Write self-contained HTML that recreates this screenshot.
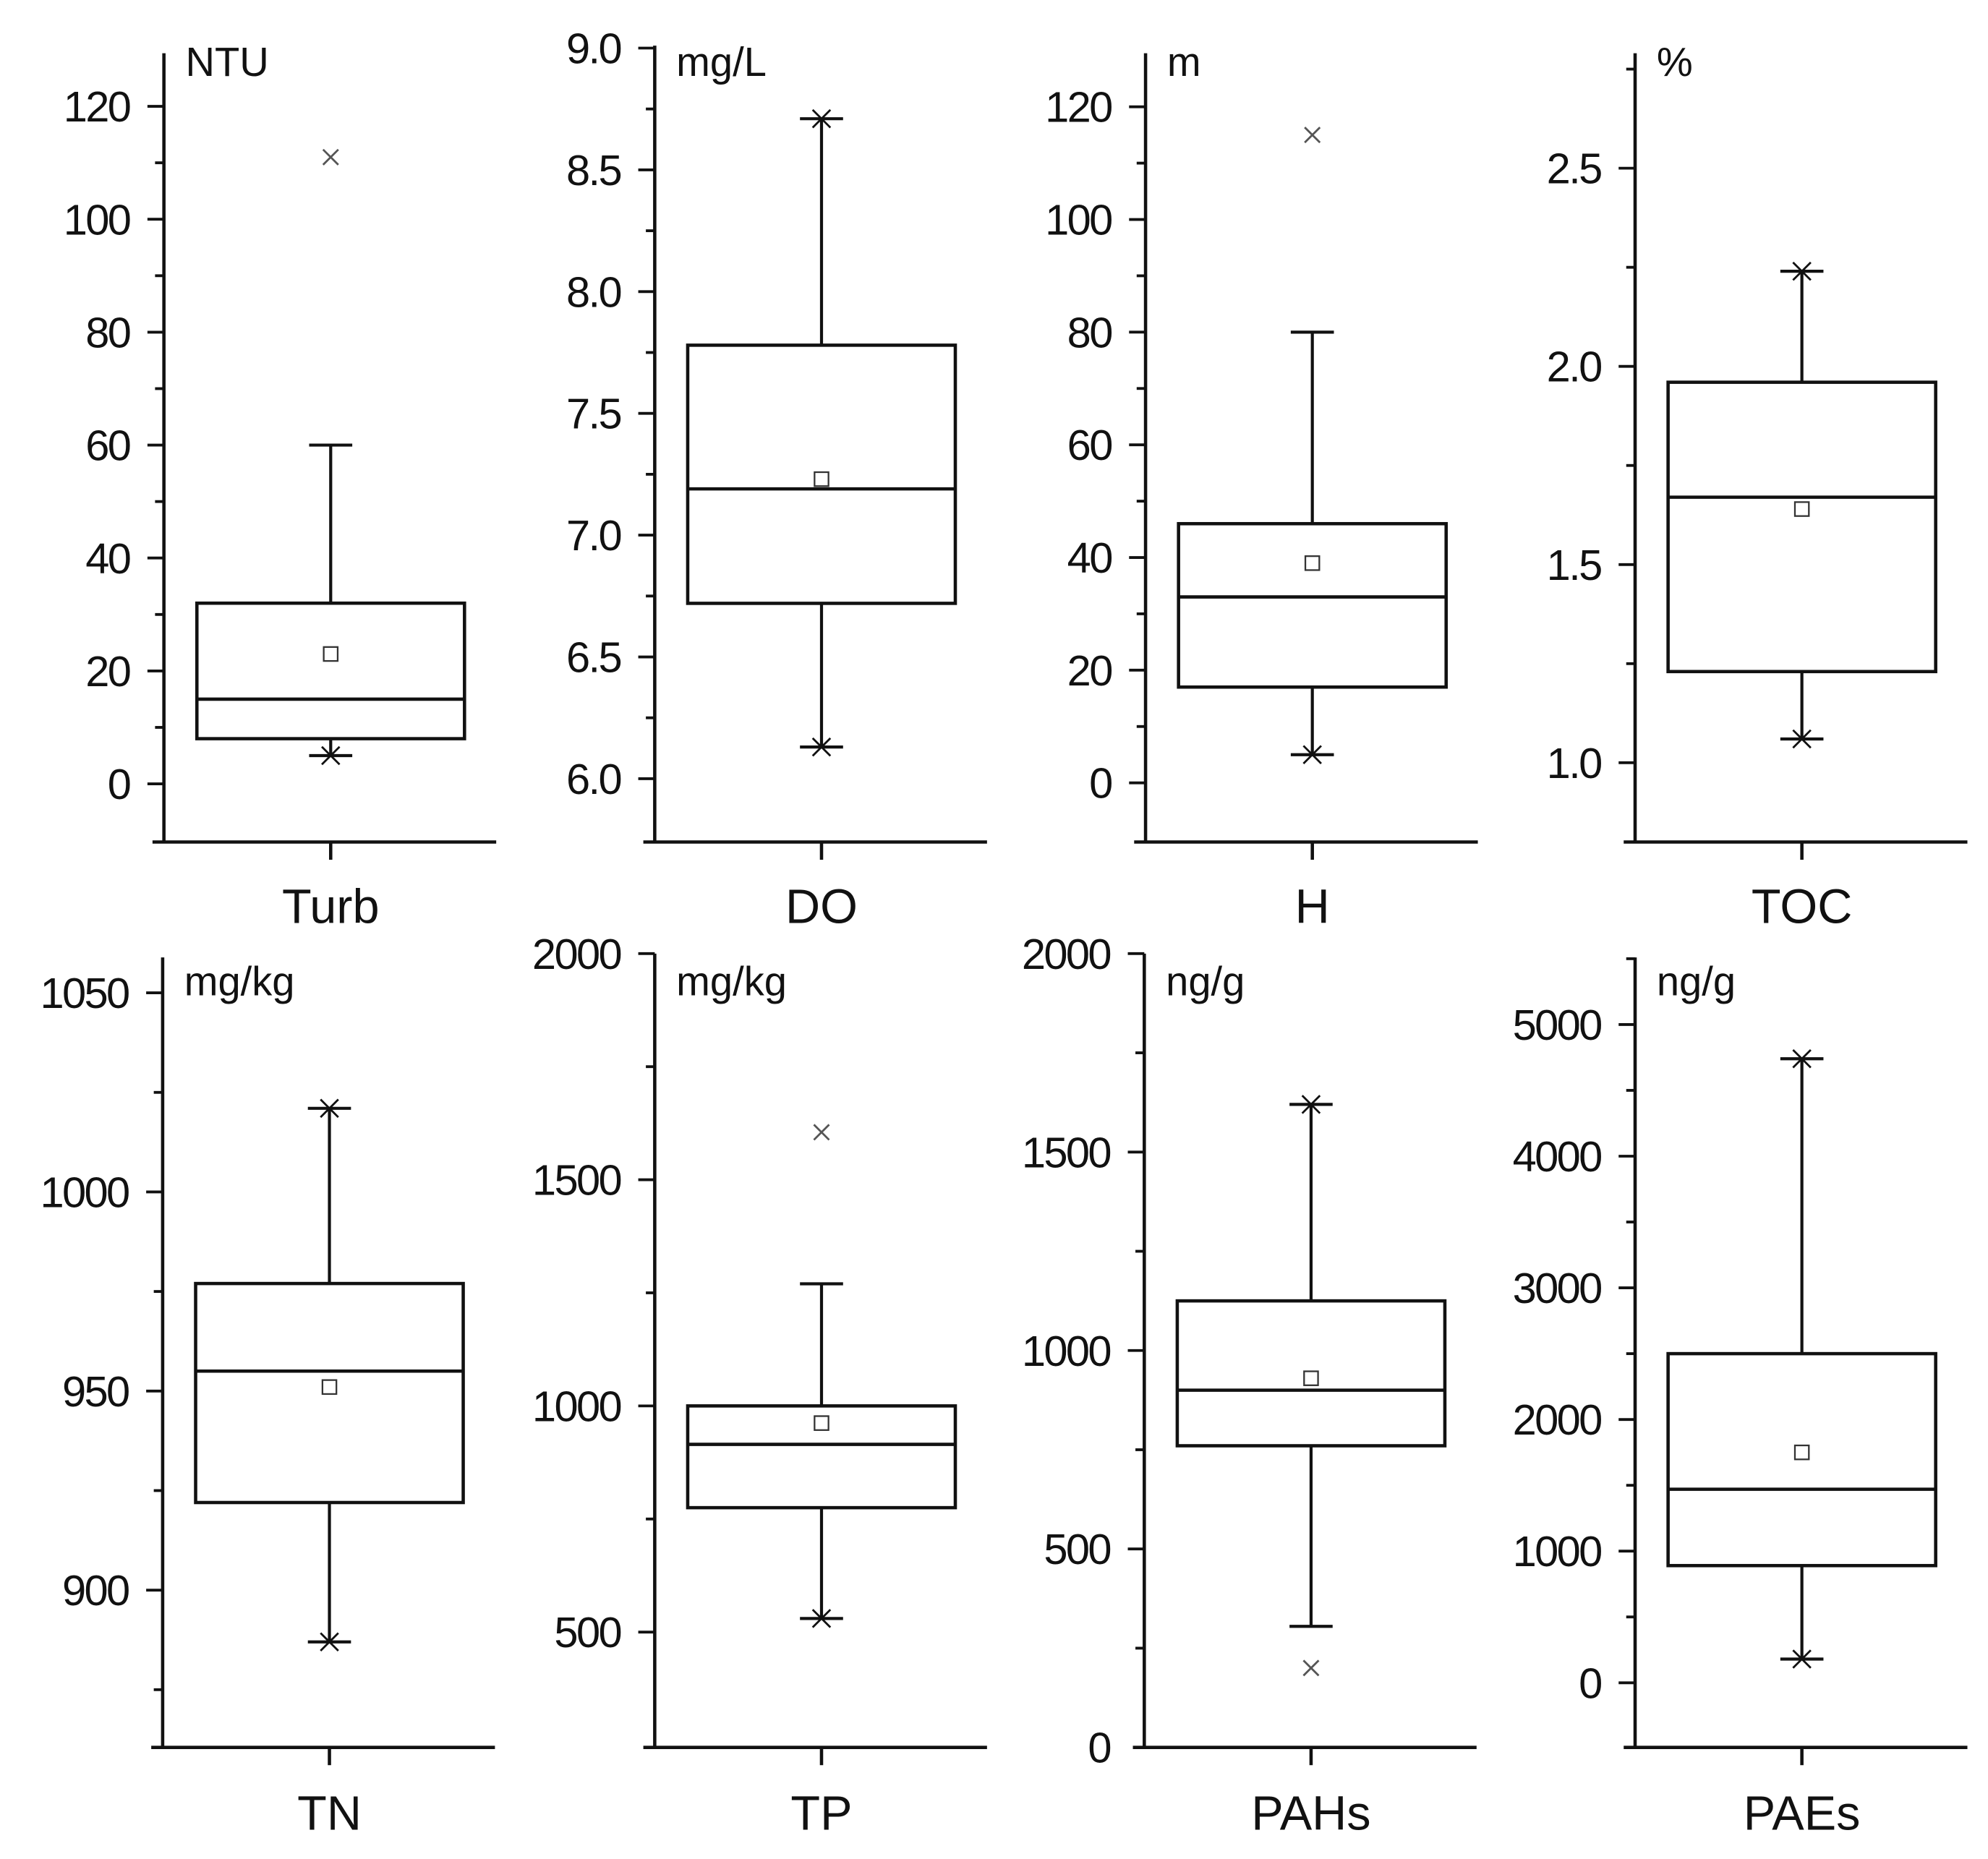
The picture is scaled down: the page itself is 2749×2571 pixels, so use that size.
<!DOCTYPE html>
<html><head><meta charset="utf-8"><style>body{margin:0;background:#fff}svg{display:block}text{font-family:"Liberation Sans",sans-serif;fill:#111}</style></head>
<body>
<svg id="chart" width="2749" height="2571" viewBox="0 0 1567 1466" xmlns="http://www.w3.org/2000/svg"></svg>
<script>
const names = ["Turb","DO","H","TOC","TN","TP","PAHs","PAEs"];
const units = ["NTU","mg/L","m","%","mg/kg","mg/kg","ng/g","ng/g"];
const q1 = [8,6.72,17,1.23,922,775,760,890];
const medians = [15,7.19,33,1.67,955,915,900,1470];
const q3 = [32,7.78,46,1.96,977,1000,1125,2500];
const means = [23,7.23,39,1.64,951,962,930,1750];
const whiskLow = [5,6.13,5,1.06,887,530,305,180];
const whiskHigh = [60,8.71,80,2.24,1021,1270,1620,4740];
const lowStar = [true,true,true,true,true,true,false,true];
const highStar = [false,true,false,true,true,false,true,true];
const outliers = [[111],[],[115],[],[],[1605],[200],[]];
const tickVals = [[0,20,40,60,80,100,120],[6.0,6.5,7.0,7.5,8.0,8.5,9.0],[0,20,40,60,80,100,120],[1.0,1.5,2.0,2.5],[900,950,1000,1050],[500,1000,1500,2000],[0,500,1000,1500,2000],[0,1000,2000,3000,4000,5000]];
const minorStep = [10,0.25,10,0.25,25,250,250,500];
const decimals = [0,1,0,1,0,0,0,0];
const yMin = [-10.3,5.74,-10.5,0.80,860.5,245,0,-491];
const yMax = [129.4,9.01,129.5,2.79,1058.9,2000,2000,5510];

const svg = document.getElementById('chart');
const NS = 'http://www.w3.org/2000/svg';
function mk(tag, attrs, parent){const e=document.createElementNS(NS,tag);for(const k in attrs)e.setAttribute(k,attrs[k]);(parent||svg).appendChild(e);return e;}
const axisX = [129,516,903,1289,128,516,902,1289];
const panelTop = [42,36,42,42,755,752,752,755];
const rows = [{bottom:664,label:728,unit:60},{bottom:1378,label:1443,unit:785}];
for(let i=0;i<8;i++){
  const r=rows[i<4?0:1];
  const top=panelTop[i];
  const ax=axisX[i], bx0=ax+26, bx1=ax+237, cx=(bx0+bx1)/2;
  const y=v=>r.bottom-(v-yMin[i])/(yMax[i]-yMin[i])*(r.bottom-top);
  const g=mk('g',{});
  
  
  const st={stroke:'#111','stroke-width':2.6,fill:'none'};
  const yAxis=mk('line',Object.assign({x1:ax,y1:top,x2:ax,y2:r.bottom},st),g);
  
  
  const xAxis=mk('line',Object.assign({x1:ax-9,y1:r.bottom,x2:ax+262,y2:r.bottom},st),g);
  
  
  mk('line',Object.assign({x1:cx,y1:r.bottom,x2:cx,y2:r.bottom+14},st),g);
  const step=minorStep[i];
  for(let v=Math.ceil(yMin[i]/step)*step; v<=yMax[i]+1e-9; v+=step){
    const yy=y(v); if(yy<top-1||yy>r.bottom-3)continue;
    const major=tickVals[i].some(t=>Math.abs(t-v)<1e-6);
    mk('line',{x1:ax-(major?13:7),y1:yy,x2:ax,y2:yy,stroke:'#111','stroke-width':2.2},g);
  }
  tickVals[i].forEach(t=>{
    const tl=mk('text',{x:ax-27,y:y(t)+12,'text-anchor':'end','font-size':34,'letter-spacing':-1.5},g);
    tl.textContent=t.toFixed(decimals[i]);
    
    
  });
  const u=mk('text',{x:ax+17,y:r.unit,'font-size':32},g);u.textContent=units[i];
  
  
  const cl=mk('text',{x:cx,y:r.label,'text-anchor':'middle','font-size':38},g);cl.textContent=names[i];
  
  
  const ws={stroke:'#111','stroke-width':2.4};
  mk('line',Object.assign({x1:cx,y1:y(whiskHigh[i]),x2:cx,y2:y(q3[i])},ws),g);
  mk('line',Object.assign({x1:cx,y1:y(q1[i]),x2:cx,y2:y(whiskLow[i])},ws),g);
  [[whiskHigh[i],highStar[i]],[whiskLow[i],lowStar[i]]].forEach(([v,star])=>{
    const yy=y(v);
    mk('line',Object.assign({x1:cx-17,y1:yy,x2:cx+17,y2:yy},ws),g);
    if(star){mk('path',{d:`M${cx-7},${yy-7}L${cx+7},${yy+7}M${cx-7},${yy+7}L${cx+7},${yy-7}`,stroke:'#111','stroke-width':1.6},g);}
  });
  const box=mk('rect',{x:bx0,y:y(q3[i]),width:bx1-bx0,height:y(q1[i])-y(q3[i]),fill:'none',stroke:'#111','stroke-width':2.6},g);
  
  
  mk('line',{x1:bx0,y1:y(medians[i]),x2:bx1,y2:y(medians[i]),stroke:'#111','stroke-width':2.6},g);
  const m=mk('rect',{x:cx-5.5,y:y(means[i])-5.5,width:11,height:11,fill:'#fff',stroke:'#333','stroke-width':1.3},g);
  
  
  outliers[i].forEach(v=>{
    const yy=y(v);
    const o=mk('path',{d:`M${cx-6},${yy-6}L${cx+6},${yy+6}M${cx-6},${yy+6}L${cx+6},${yy-6}`,stroke:'#555','stroke-width':1.6},g);
    
    
  });
}
</script>
</body></html>
